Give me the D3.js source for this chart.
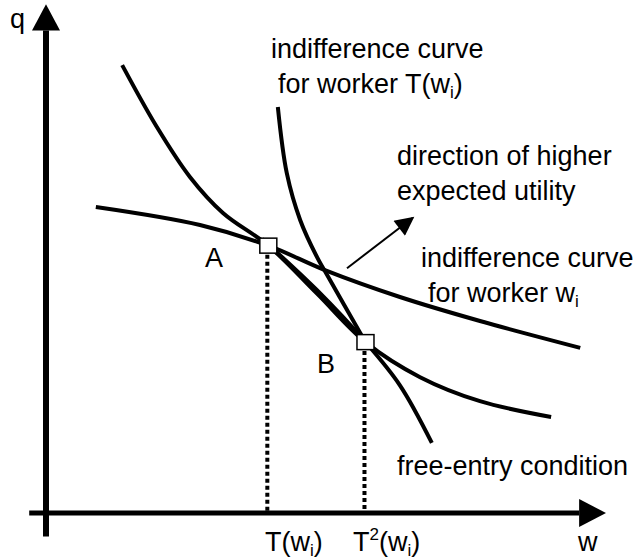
<!DOCTYPE html>
<html>
<head>
<meta charset="utf-8">
<script src="https://cdn.jsdelivr.net/npm/d3@7/dist/d3.min.js"></script>
<style>
  body { margin: 0; background: #fff; }
  text { font-family: "Liberation Sans", Arial, sans-serif; font-size: 27px; fill: #000; }
</style>
</head>
<body>
<div id="chart"></div>
<script>
// Curves in (w, q) units
const indiffWi = [
  {w: 8.9, q: 63.75}, {w: 27.5, q: 60.0}, {w: 39.7, q: 55.7}, {w: 49.8, q: 50.6},
  {w: 63.2, q: 45.0}, {w: 77.5, q: 40.0}, {w: 95.4, q: 34.4}
];
const lowerCurve = [
  {w: 13.6, q: 93.3}, {w: 19.8, q: 80.4}, {w: 25.7, q: 70.0}, {w: 31.6, q: 62.5},
  {w: 39.7, q: 55.7}, {w: 48.4, q: 45.7}, {w: 57.05, q: 35.6}, {w: 66.8, q: 28.3},
  {w: 77.5, q: 23.3}, {w: 90.2, q: 20.0}
];
const freeEntry = [
  {w: 38.6, q: 57.1}, {w: 48.4, q: 46.4}, {w: 57.05, q: 35.6}, {w: 63.2, q: 26.6},
  {w: 68.9, q: 14.6}
];
const indiffTwi = [
  {w: 41.4, q: 84.6}, {w: 43.0, q: 70.8}, {w: 45.4, q: 61.0}, {w: 48.4, q: 53.3},
  {w: 49.8, q: 50.4}, {w: 57.05, q: 35.6}
];
const points = [
  {name: "A", w: 39.7, q: 55.7},
  {name: "B", w: 57.05, q: 35.6}
];
const direction = [{w: 53.75, q: 51.0}, {w: 65.5, q: 61.5}];

const width = 636, height = 560;

const svg = d3.select("#chart")
  .append("svg")
  .attr("width", width)
  .attr("height", height);

const x = d3.scaleLinear().domain([0, 100]).range([46, 606]);
const y = d3.scaleLinear().domain([0, 100]).range([513, 33]);

// arrowhead for the direction arrow
const defs = svg.append("defs");
defs.append("marker")
  .attr("id", "head")
  .attr("viewBox", "0 0 10 10")
  .attr("refX", 9).attr("refY", 5)
  .attr("markerWidth", 10.5).attr("markerHeight", 9.5)
  .attr("markerUnits", "strokeWidth")
  .attr("orient", "auto")
  .append("path")
  .attr("d", "M0,0L10,5L0,10Z")
  .attr("fill", "#000");

// axes
svg.append("line")
  .attr("x1", x(0)).attr("x2", x(0))
  .attr("y1", y(-4.9)).attr("y2", y(100.5))
  .attr("stroke", "#000").attr("stroke-width", 6);
svg.append("path")
  .attr("d", `M${x(0) - 14},${y(100.5)}L${x(0) + 14},${y(100.5)}L${x(0)},${y(106)}Z`);

svg.append("line")
  .attr("x1", x(-3)).attr("x2", x(95.2))
  .attr("y1", y(0)).attr("y2", y(0))
  .attr("stroke", "#000").attr("stroke-width", 5);
svg.append("path")
  .attr("d", `M${x(95.2)},${y(0) - 14}L${x(95.2)},${y(0) + 14}L${x(100)},${y(0)}Z`);

// dotted drop lines
svg.selectAll(".drop")
  .data(points)
  .enter()
  .append("line")
  .attr("class", "drop")
  .attr("x1", d => x(d.w) - 1).attr("x2", d => x(d.w) - 1)
  .attr("y1", d => y(d.q) + 9).attr("y2", y(0) - 2)
  .attr("stroke", "#000")
  .attr("stroke-width", 4)
  .attr("stroke-dasharray", "4,3");

// curves
const line = d3.line()
  .x(d => x(d.w))
  .y(d => y(d.q))
  .curve(d3.curveCatmullRom.alpha(0.5));

[indiffWi, lowerCurve, freeEntry, indiffTwi].forEach(c => {
  svg.append("path")
    .attr("d", line(c))
    .attr("fill", "none")
    .attr("stroke", "#000")
    .attr("stroke-width", 4);
});

// direction arrow
svg.append("line")
  .attr("x1", x(direction[0].w)).attr("y1", y(direction[0].q))
  .attr("x2", x(direction[1].w)).attr("y2", y(direction[1].q))
  .attr("stroke", "#000")
  .attr("stroke-width", 2)
  .attr("marker-end", "url(#head)");

// A and B boxes
svg.selectAll(".pt")
  .data(points)
  .enter()
  .append("rect")
  .attr("class", "pt")
  .attr("x", d => x(d.w) - 8.5)
  .attr("y", d => y(d.q) - 7.5)
  .attr("width", 17)
  .attr("height", 15)
  .attr("fill", "#fff")
  .attr("stroke", "#000")
  .attr("stroke-width", 1.5);

// labels
function label(px, py, parts) {
  const t = svg.append("text").attr("x", px).attr("y", py);
  parts.forEach(p => {
    const s = t.append("tspan").text(p.t);
    if (p.sub) s.attr("font-size", 17).attr("dy", 5);
    if (p.sup) s.attr("font-size", 17).attr("dy", -11);
    if (p.back) s.attr("dy", p.back);
  });
  return t;
}

label(10, 28, [{t: "q"}]);
label(271, 58, [{t: "indifference curve"}]);
label(278, 93, [{t: "for worker T(w"}, {t: "i", sub: true}, {t: ")", back: -5}]);
label(397, 165, [{t: "direction of higher"}]);
label(397, 200, [{t: "expected utility"}]);
label(421, 267, [{t: "indifference curve"}]);
label(428, 302, [{t: "for worker w"}, {t: "i", sub: true}]);
label(205, 267, [{t: "A"}]);
label(317, 373, [{t: "B"}]);
label(397, 475, [{t: "free-entry condition"}]);
label(265, 551, [{t: "T(w"}, {t: "i", sub: true}, {t: ")", back: -5}]);
label(353, 551, [{t: "T"}, {t: "2", sup: true}, {t: "(w", back: 11}, {t: "i", sub: true}, {t: ")", back: -5}]);
label(578, 551, [{t: "w"}]);
</script>
</body>
</html>
